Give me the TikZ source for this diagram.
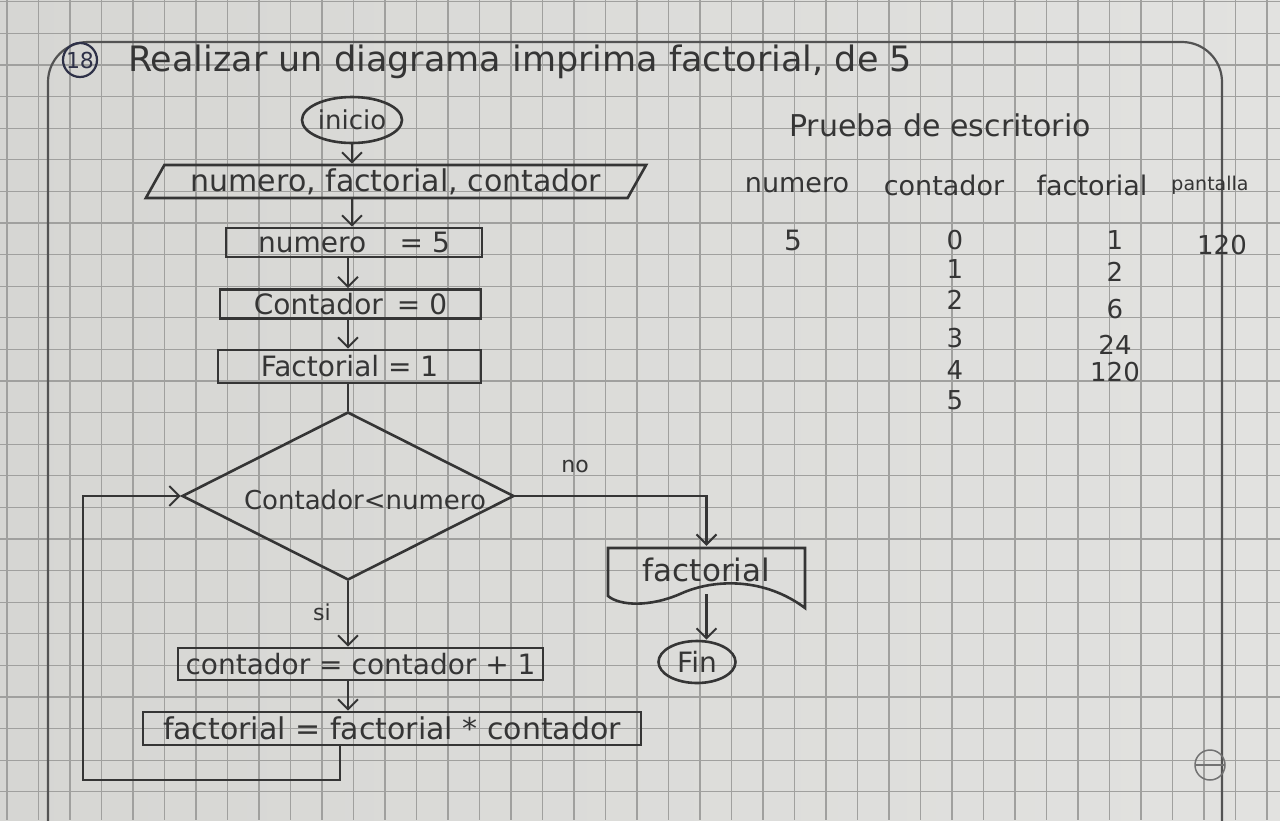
\documentclass[tikz,border=0pt]{standalone}
\usepackage{fontspec}
\setmainfont{DejaVu Sans}
\usetikzlibrary{arrows.meta,shapes.geometric,calc}
\definecolor{paper}{HTML}{D6D6D3}
\definecolor{paperhi}{HTML}{E2E2E0}
\definecolor{gridc}{HTML}{A0A09E}
\definecolor{ink}{HTML}{353535}
\definecolor{blueink}{HTML}{2E3148}
\begin{document}
\begin{tikzpicture}[x=1pt,y=-1pt,
  pen/.style={draw=ink,line width=2.6pt},
  txt/.style={text=ink,inner sep=0pt,font=\fontsize{#1}{#1}\selectfont},
  txt/.default=26,
  procbox/.style={pen,rectangle,inner sep=0pt,text=ink,font=\fontsize{28}{28}\selectfont},
  termbox/.style={pen,ellipse,inner sep=0pt,text=ink,font=\fontsize{26}{26}\selectfont},
  iobox/.style={pen,trapezium,trapezium left angle=58,trapezium right angle=122,
    trapezium stretches=true,inner sep=0pt,text=ink,font=\fontsize{30}{30}\selectfont},
  decbox/.style={pen,diamond,inner sep=0pt,text=ink},
  arr/.style={pen,-{Straight Barb[length=10pt,width=20pt,line width=2pt]}},
  wire/.style={pen}
]
\useasboundingbox (0,0) rectangle (1280,820);
\clip (0,0) rectangle (1280,820);

% paper and squared ruling
\shade[left color=paper,right color=paperhi] (0,0) rectangle (1280,820);
\foreach \i in {0,...,40}
  \draw[gridc,line width=1.3pt] ({7+31.5*\i},0) -- ({7+31.5*\i},820);
\foreach \j in {0,...,26}
  \draw[gridc,line width=1.3pt] (0,{1.8+31.6*\j}) -- (1280,{1.8+31.6*\j});
\draw[draw=ink!85,line width=2.2pt,rounded corners=40pt] (48,42) rectangle (1222,900);
\draw[draw=ink!70,line width=1.5pt] (1210,765) circle (15);
\draw[draw=ink!70,line width=1.5pt] (1195,765) -- (1225,765);

% heading
\node[circle,draw=blueink,line width=2.2pt,minimum size=34pt,inner sep=0pt,text=blueink,
  font=\fontsize{22}{22}\selectfont] (num) at (80,60) {18};
\node[txt=35,anchor=west] (title) at (128,62) {Realizar un diagrama imprima factorial, de 5};

% flowchart
\node[termbox,minimum width=100,minimum height=46] (ini) at (352,120) {inicio};
\node[iobox,minimum width=503,minimum height=33] (dat) at (396,181.5) {numero, factorial, contador};
\node[procbox,minimum width=256,minimum height=29] (n5) at (354,242.5) {numero\hspace{1.2em}= 5};
\node[procbox,minimum width=261,minimum height=29] (c0) at (350.5,304) {Contador\hspace{0.5em}= 0};
\node[procbox,minimum width=263,minimum height=33] (f1) at (349.5,366.5) {Factorial = 1};
\node[decbox,minimum width=332,minimum height=168] (dec) at (348,496) {};
\node[txt=26] (dect) at (365,500) {Contador<numero};
\node[procbox,minimum width=365,minimum height=32] (c1) at (360.5,664) {contador = contador + 1};
\node[procbox,minimum width=498,minimum height=33,font=\fontsize{30}{30}\selectfont] (f2) at (392,728.5) {factorial = factorial * contador};
\node[inner sep=0pt,minimum width=197,minimum height=48,text=ink,
  font=\fontsize{31}{31}\selectfont] (doc) at (706.5,570) {factorial};
\draw[pen] (608,548) -- (805,548) -- (805,608)
  .. controls (765,578) and (715,578) .. (680,594)
  .. controls (650,607) and (620,606) .. (608,596) -- cycle;
\node[termbox,minimum width=77,minimum height=42,font=\fontsize{28}{28}\selectfont] (fin) at (697,662) {Fin};
\node[txt=22] (no) at (575,466) {no};
\node[txt=22] (si) at (322,612) {si};

% connectors
\draw[arr] (ini) -- (dat.north -| ini.south);
\draw[arr] (dat.south -| ini.south) -- (n5.north -| ini.south);
\draw[arr] (n5.south -| dec.north) -- (c0.north -| dec.north);
\draw[arr] (c0.south -| dec.north) -- (f1.north -| dec.north);
\draw[wire] (f1.south -| dec.north) -- (dec.north);
\draw[arr] (dec.south) -- (c1.north -| dec.south);
\draw[arr] (c1.south -| dec.south) -- (f2.north -| dec.south);
\coordinate (lpa) at (340,780);
\coordinate (lpb) at (83,780);
\draw[arr] (f2.south -| lpa) -- (lpa) -- (lpb) |- (dec.west);
\draw[arr] (dec.east) -| (doc.north);
\draw[arr] (doc.south) -- (fin.north -| doc.south);

% desk check table
\node[txt=30] (pr) at (940,125) {Prueba de escritorio};
\node[txt=27] (hn) at (797,185) {numero};
\node[txt=27] (hc) at (944,185) {contador};
\node[txt=27] (hf) at (1092,185) {factorial};
\node[txt=19] (hp) at (1210,185) {pantalla};
\node[txt=28] (v5) at (793,240) {5};
\foreach \v/\y [count=\k] in {0/240,1/269,2/300,3/338,4/370,5/400}
  \node[txt=26] (c\k) at (955,\y) {\v};
\foreach \v/\y [count=\k] in {1/240,2/272,6/309,24/345,120/372}
  \node[txt=26] (f\k) at (1115,\y) {\v};
\node[txt=26] (p1) at (1222,245) {120};
\end{tikzpicture}
\end{document}
